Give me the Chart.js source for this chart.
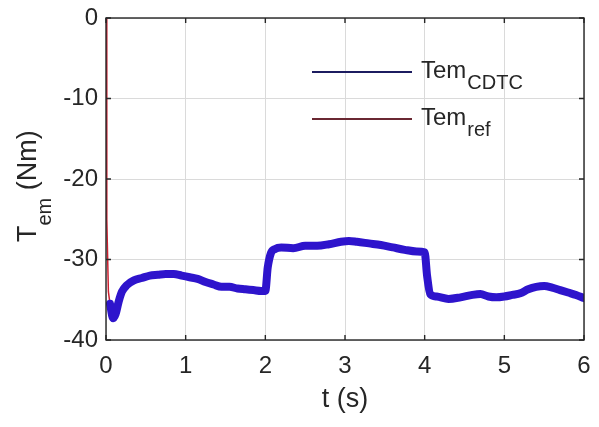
<!DOCTYPE html>
<html>
<head>
<meta charset="utf-8">
<script src="https://cdn.jsdelivr.net/npm/chart.js@4.4.1/dist/chart.umd.min.js"></script>
<style>
    html, body { margin: 0; padding: 0; background: #fff; }
    #wrap { width: 599px; height: 427px; position: relative; }
</style>
</head>
<body>
<div id="wrap"><canvas id="chartTem"></canvas></div>
<script>
// datos
const tiempo = [0.05, 0.09, 0.12, 0.16, 0.2, 0.26, 0.35, 0.45, 0.55, 0.65, 0.75, 0.85, 0.95,
    1.05, 1.15, 1.25, 1.35, 1.45, 1.55, 1.65, 1.75, 1.85, 1.95, 2.0,
    2.03, 2.07, 2.12, 2.2, 2.35, 2.5, 2.65, 2.8, 2.95, 3.05, 3.15, 3.3, 3.45, 3.6, 3.75, 3.9, 4.0,
    4.03, 4.07, 4.15, 4.3, 4.45, 4.6, 4.7, 4.8, 4.9, 5.0, 5.1, 5.2, 5.3, 5.4, 5.5, 5.6, 5.7, 5.8, 5.9, 6.0];
const temCDTC = [-35.5, -37.3, -36.8, -35.2, -34.0, -33.2, -32.6, -32.3, -32.0, -31.9, -31.8, -31.8, -32.0,
    -32.2, -32.4, -32.8, -33.1, -33.4, -33.4, -33.6, -33.7, -33.8, -33.9, -33.9,
    -31.0, -29.2, -28.7, -28.5, -28.6, -28.3, -28.3, -28.1, -27.8, -27.7, -27.8, -28.0, -28.2, -28.5, -28.8, -29.0, -29.1,
    -32.0, -34.3, -34.6, -34.9, -34.7, -34.4, -34.3, -34.6, -34.7, -34.6, -34.4, -34.2, -33.7, -33.4, -33.3, -33.5, -33.8, -34.1, -34.4, -34.8];
const tiempoRefInicio = [0, 0.01, 0.03];
const temRefInicio = [0, -25, -34];
const ticksX = [0, 1, 2, 3, 4, 5, 6];
const ticksY = [0, -10, -20, -30, -40];

const toXY = (xs, ys) => xs.map((x, i) => ({ x, y: ys[i] }));

const TXT = '#262626';
const FONT = '"Liberation Sans", Arial, sans-serif';

const marcoPlugin = {
    id: 'marco',
    afterDraw(chart) {
        const { ctx, chartArea: a, scales } = chart;
        ctx.save();
        ctx.strokeStyle = TXT;
        ctx.lineWidth = 1.4;
        ctx.strokeRect(a.left, a.top, a.right - a.left, a.bottom - a.top);
        // ticks hacia adentro
        ticksX.forEach(v => {
            const px = scales.x.getPixelForValue(v);
            ctx.beginPath();
            ctx.moveTo(px, a.bottom); ctx.lineTo(px, a.bottom - 5);
            ctx.moveTo(px, a.top); ctx.lineTo(px, a.top + 5);
            ctx.stroke();
        });
        ticksY.forEach(v => {
            const py = scales.y.getPixelForValue(v);
            ctx.beginPath();
            ctx.moveTo(a.left, py); ctx.lineTo(a.left + 5, py);
            ctx.moveTo(a.right, py); ctx.lineTo(a.right - 5, py);
            ctx.stroke();
        });

        // leyenda
        const items = [
            { color: '#1c1c60', sub: 'CDTC', y: 72 },
            { color: '#6a2832', sub: 'ref', y: 119 }
        ];
        items.forEach(it => {
            ctx.strokeStyle = it.color;
            ctx.lineWidth = 2;
            ctx.beginPath();
            ctx.moveTo(312, it.y); ctx.lineTo(412, it.y);
            ctx.stroke();
            ctx.fillStyle = TXT;
            ctx.textBaseline = 'alphabetic';
            ctx.textAlign = 'left';
            ctx.font = '24px ' + FONT;
            ctx.fillText('Tem', 421, it.y + 6);
            const w = ctx.measureText('Tem').width;
            ctx.font = '20px ' + FONT;
            ctx.fillText(it.sub, 422 + w, it.y + 17);
        });

        // titulo eje y
        ctx.save();
        ctx.translate(36, 242);
        ctx.rotate(-Math.PI / 2);
        ctx.fillStyle = TXT;
        ctx.textAlign = 'left';
        ctx.font = '27px ' + FONT;
        ctx.fillText('T', 0, 0);
        let x = ctx.measureText('T').width;
        ctx.font = '20px ' + FONT;
        ctx.fillText('em', x, 15);
        x += ctx.measureText('em').width;
        ctx.font = '27px ' + FONT;
        ctx.fillText(' (Nm)', x, 0);
        ctx.restore();

        // titulo eje x
        ctx.fillStyle = TXT;
        ctx.textAlign = 'center';
        ctx.font = '27px ' + FONT;
        ctx.fillText('t (s)', 345, 407);
        ctx.restore();
    }
};

new Chart(document.getElementById('chartTem'), {
    type: 'line',
    data: {
        datasets: [
            {
                label: 'Tem_CDTC',
                data: toXY(tiempo, temCDTC),
                borderColor: '#2e14cc',
                borderWidth: 8,
                pointRadius: 0,
                cubicInterpolationMode: 'monotone',
                borderCapStyle: 'round',
                order: 1
            },
            {
                label: 'Tem_ref',
                data: toXY(tiempoRefInicio.concat(tiempo), temRefInicio.concat(temCDTC)),
                borderColor: '#cc2030',
                borderWidth: 1.5,
                pointRadius: 0,
                tension: 0,
                order: 2
            }
        ]
    },
    options: {
        responsive: true,
        maintainAspectRatio: false,
        animation: false,
        layout: { padding: { top: 18, right: 15, left: 0, bottom: 0 } },
        plugins: {
            legend: { display: false },
            tooltip: { enabled: false }
        },
        scales: {
            x: {
                type: 'linear',
                min: 0, max: 6,
                afterBuildTicks: s => { s.ticks = ticksX.map(v => ({ value: v })); },
                afterFit: s => { s.height = 87; s.paddingLeft = 0; s.paddingRight = 0; },
                grid: { color: '#dadada', lineWidth: 1, drawTicks: false },
                border: { display: false },
                ticks: { color: TXT, font: { family: FONT, size: 24 }, padding: 12, maxRotation: 0 }
            },
            y: {
                min: -40, max: 0,
                afterBuildTicks: s => { s.ticks = ticksY.map(v => ({ value: v })); },
                afterFit: s => { s.width = 106; s.paddingTop = 0; s.paddingBottom = 0; },
                grid: { color: '#dadada', lineWidth: 1, drawTicks: false },
                border: { display: false },
                ticks: { color: TXT, font: { family: FONT, size: 24 }, padding: 8 }
            }
        }
    },
    plugins: [marcoPlugin]
});
</script>
</body>
</html>
